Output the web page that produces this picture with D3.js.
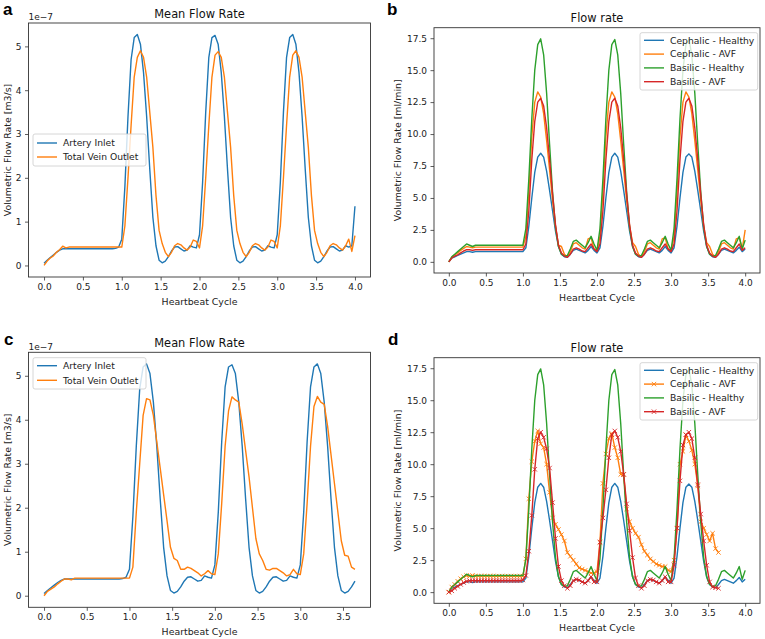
<!DOCTYPE html>
<html>
<head>
<meta charset="utf-8">
<script src="https://cdn.jsdelivr.net/npm/d3@7"></script>
<style>
    html, body { margin: 0; padding: 0; background: #fff; }
    svg text { font-family: "DejaVu Sans", sans-serif; }
</style>
</head>
<body>
<div id="chart"></div>
<script>
// sampling step of every series along the heartbeat cycle axis
const STEP = 0.04;

// ticks
const xTicks = [0, 0.5, 1, 1.5, 2, 2.5, 3, 3.5, 4];
const yTicksMean = [0, 1, 2, 3, 4, 5];
const yTicksFlow = [0, 2.5, 5, 7.5, 10, 12.5, 15, 17.5];

// panel a / c : mean flow rate, units of 1e-7 m3/s
const arteryInlet = [
    0.05, 0.12, 0.18, 0.24, 0.30, 0.35, 0.38, 0.38, 0.38, 0.38, 0.38, 0.38, 0.38, 0.38, 0.38, 0.38, 0.38, 0.38, 0.38, 0.38, 0.38, 0.38, 0.38, 0.39, 0.42,
    0.60, 1.80, 3.40, 4.70, 5.20, 5.27, 5.05, 4.40, 3.40, 2.20, 1.10, 0.45, 0.12, 0.06, 0.10, 0.20, 0.33, 0.42, 0.43, 0.38, 0.33, 0.35, 0.45, 0.42, 0.40,
    0.70, 1.90, 3.50, 4.75, 5.20, 5.25, 5.05, 4.40, 3.40, 2.20, 1.10, 0.45, 0.12, 0.06, 0.10, 0.20, 0.33, 0.42, 0.43, 0.38, 0.33, 0.35, 0.45, 0.42, 0.40,
    0.70, 1.90, 3.50, 4.75, 5.20, 5.27, 5.05, 4.40, 3.40, 2.20, 1.10, 0.45, 0.12, 0.06, 0.10, 0.20, 0.33, 0.42, 0.43, 0.38, 0.33, 0.35, 0.45, 0.42, 0.45,
    1.35
];
const veinOutletA = [
    0.00, 0.10, 0.17, 0.22, 0.30, 0.36, 0.44, 0.40, 0.42, 0.42, 0.42, 0.42, 0.42, 0.42, 0.42, 0.42, 0.42, 0.42, 0.42, 0.42, 0.42, 0.42, 0.42, 0.42, 0.42,
    0.42, 0.90, 2.00, 3.20, 4.30, 4.75, 4.90, 4.75, 4.30, 3.50, 2.70, 1.60, 0.80, 0.50, 0.30, 0.20, 0.30, 0.45, 0.50, 0.47, 0.40, 0.35, 0.42, 0.58, 0.55,
    0.40, 0.90, 2.00, 3.20, 4.30, 4.80, 4.88, 4.75, 4.30, 3.50, 2.70, 1.60, 0.80, 0.50, 0.30, 0.20, 0.30, 0.45, 0.50, 0.47, 0.40, 0.35, 0.42, 0.58, 0.55,
    0.40, 0.90, 2.00, 3.20, 4.30, 4.80, 4.90, 4.75, 4.30, 3.50, 2.70, 1.60, 0.80, 0.50, 0.30, 0.20, 0.30, 0.45, 0.50, 0.47, 0.40, 0.35, 0.45, 0.60, 0.32,
    0.68
];
const arteryInletC = arteryInlet.slice(0, 92);
const veinOutletC = [
    0.00, 0.10, 0.15, 0.20, 0.27, 0.33, 0.38, 0.38, 0.36, 0.40, 0.40, 0.40, 0.40, 0.40, 0.40, 0.40, 0.40, 0.40, 0.40, 0.40, 0.40, 0.40, 0.40, 0.40, 0.40,
    0.40, 0.65, 1.90, 3.00, 4.10, 4.48, 4.45, 4.10, 3.50, 2.90, 2.30, 1.70, 1.10, 0.85, 0.80, 0.60, 0.60, 0.65, 0.62, 0.57, 0.52, 0.45, 0.50, 0.57, 0.50,
    0.48, 0.95, 2.10, 3.40, 4.20, 4.52, 4.45, 4.40, 3.90, 3.30, 2.70, 2.00, 1.30, 0.95, 0.80, 0.60, 0.58, 0.62, 0.62, 0.57, 0.52, 0.45, 0.48, 0.60, 0.50,
    0.48, 0.95, 2.10, 3.40, 4.30, 4.53, 4.40, 4.35, 3.85, 3.20, 2.55, 1.90, 1.25, 0.92, 0.90, 0.65, 0.60
];

// panel b / d : flow rate, ml/min
const cephalicHealthy = [
    0.00, 0.30, 0.40, 0.50, 0.60, 0.70, 0.80, 0.80, 0.75, 0.80, 0.80, 0.80, 0.80, 0.80, 0.80, 0.80, 0.80, 0.80, 0.80, 0.80, 0.80, 0.80, 0.80, 0.80, 0.80,
    0.80, 1.10, 2.80, 5.00, 7.00, 8.20, 8.50, 8.20, 7.10, 5.60, 4.00, 2.40, 1.20, 0.60, 0.40, 0.35, 0.60, 0.90, 1.00, 0.90, 0.80, 0.70, 0.90, 1.20, 0.90,
    0.70, 1.10, 2.80, 5.00, 7.00, 8.20, 8.50, 8.20, 7.10, 5.60, 4.00, 2.40, 1.20, 0.60, 0.40, 0.35, 0.60, 0.90, 1.00, 0.90, 0.80, 0.70, 0.90, 1.20, 0.90,
    0.70, 1.10, 2.80, 5.00, 7.00, 8.20, 8.45, 8.20, 7.10, 5.60, 4.00, 2.40, 1.20, 0.60, 0.40, 0.35, 0.60, 0.90, 1.00, 0.90, 0.80, 0.70, 0.90, 1.15, 0.80,
    1.00
];
const basilicHealthy = [
    0.00, 0.40, 0.60, 0.80, 1.00, 1.20, 1.40, 1.30, 1.20, 1.30, 1.30, 1.30, 1.30, 1.30, 1.30, 1.30, 1.30, 1.30, 1.30, 1.30, 1.30, 1.30, 1.30, 1.30, 1.30,
    1.30, 2.60, 6.50, 11.20, 15.00, 17.00, 17.45, 16.20, 13.20, 9.20, 5.50, 2.70, 1.20, 0.60, 0.45, 0.50, 1.00, 1.60, 1.70, 1.50, 1.30, 1.10, 1.50, 2.00, 1.40,
    0.90, 2.60, 6.50, 11.20, 15.00, 17.00, 17.40, 16.20, 13.20, 9.20, 5.50, 2.70, 1.20, 0.60, 0.45, 0.50, 1.00, 1.60, 1.70, 1.50, 1.30, 1.10, 1.50, 2.00, 1.40,
    0.90, 2.60, 6.50, 11.20, 15.00, 17.00, 17.40, 16.20, 13.20, 9.20, 5.50, 2.70, 1.20, 0.60, 0.45, 0.50, 1.00, 1.60, 1.70, 1.50, 1.30, 1.10, 1.50, 2.00, 1.00,
    1.70
];
const cephalicAVF = [
    0.00, 0.35, 0.55, 0.70, 0.90, 1.05, 1.20, 1.15, 1.10, 1.15, 1.15, 1.15, 1.15, 1.15, 1.15, 1.15, 1.15, 1.15, 1.15, 1.15, 1.15, 1.15, 1.15, 1.15, 1.15,
    1.15, 2.00, 5.50, 9.80, 12.50, 13.30, 12.90, 11.60, 9.50, 7.20, 4.80, 2.80, 1.30, 1.20, 0.60, 0.40, 0.80, 1.40, 1.50, 1.30, 1.10, 1.00, 1.80, 1.90, 1.00,
    0.90, 2.00, 5.50, 9.80, 12.50, 13.30, 12.90, 11.60, 9.50, 7.20, 4.80, 2.80, 1.50, 1.20, 0.60, 0.40, 0.80, 1.40, 1.50, 1.30, 1.10, 1.00, 1.80, 1.90, 1.00,
    0.90, 2.00, 5.50, 9.80, 12.50, 13.30, 12.90, 11.60, 9.50, 7.20, 4.80, 2.80, 1.50, 1.20, 0.60, 0.40, 0.80, 1.40, 1.50, 1.30, 1.10, 1.00, 1.80, 1.90, 1.00,
    2.50
];
const basilicAVF = [
    0.00, 0.30, 0.45, 0.55, 0.70, 0.85, 0.95, 0.95, 0.90, 0.95, 0.95, 0.95, 0.95, 0.95, 0.95, 0.95, 0.95, 0.95, 0.95, 0.95, 0.95, 0.95, 0.95, 0.95, 0.95,
    0.95, 1.40, 4.00, 8.00, 11.00, 12.50, 12.80, 12.20, 10.50, 8.00, 5.30, 2.90, 1.30, 0.70, 0.45, 0.35, 0.60, 1.00, 1.10, 1.00, 0.85, 0.80, 1.10, 1.40, 1.00,
    0.80, 1.40, 4.00, 8.00, 11.00, 12.50, 12.80, 12.20, 10.50, 8.00, 5.30, 2.90, 1.30, 0.70, 0.45, 0.35, 0.60, 1.00, 1.10, 1.00, 0.85, 0.80, 1.10, 1.40, 1.00,
    0.80, 1.40, 4.00, 8.00, 11.00, 12.50, 12.80, 12.20, 10.50, 8.00, 5.30, 2.90, 1.30, 0.70, 0.45, 0.35, 0.60, 1.00, 1.10, 1.00, 0.85, 0.80, 1.10, 1.40, 0.90,
    1.10
];
const cephalicAVFd = [
    0.00, 0.40, 0.60, 0.85, 1.05, 1.20, 1.30, 1.25, 1.30, 1.25, 1.25, 1.25, 1.25, 1.25, 1.25, 1.25, 1.25, 1.25, 1.25, 1.25, 1.25, 1.25, 1.25, 1.25, 1.25,
    1.25, 2.60, 7.30, 10.20, 11.80, 12.60, 11.60, 11.30, 10.00, 7.80, 5.80, 5.30, 4.90, 4.50, 4.00, 3.10, 2.80, 2.50, 2.20, 1.90, 1.80, 1.70, 1.60, 1.50, 1.50,
    1.60, 3.90, 8.50, 10.80, 12.00, 12.40, 11.30, 10.50, 9.20, 9.20, 6.50, 5.50, 5.00, 4.60, 4.30, 3.70, 3.20, 2.90, 2.60, 2.40, 2.20, 2.10, 2.00, 2.00, 1.70,
    1.60, 2.50, 5.00, 10.00, 11.00, 12.30, 11.80, 11.10, 10.00, 8.30, 5.50, 5.00, 4.50, 4.00, 4.60, 3.40, 3.10
];
const basilicAVFd = [
    0.00, 0.10, 0.30, 0.45, 0.60, 0.75, 0.85, 0.90, 0.90, 0.90, 0.90, 0.90, 0.90, 0.90, 0.90, 0.90, 0.90, 0.90, 0.90, 0.90, 0.90, 0.90, 0.90, 0.90, 0.90,
    0.95, 1.30, 3.20, 6.00, 9.60, 12.00, 12.50, 12.10, 11.20, 9.70, 7.00, 4.20, 2.00, 0.90, 0.50, 0.30, 0.50, 0.90, 1.00, 0.95, 0.80, 0.70, 0.90, 1.20, 0.80,
    0.80, 3.90, 5.80, 8.00, 10.50, 12.30, 12.60, 12.10, 11.00, 9.20, 6.90, 4.80, 2.70, 1.10, 0.50, 0.30, 0.50, 0.90, 1.00, 0.95, 0.80, 0.70, 0.90, 1.20, 0.80,
    0.80, 2.10, 5.00, 8.70, 11.50, 12.30, 12.50, 12.00, 10.50, 8.40, 6.10, 4.00, 2.10, 0.80, 0.40, 0.35, 0.30
];


const COLORS = {
    blue: "#1f77b4",
    orange: "#ff7f0e",
    green: "#2ca02c",
    red: "#d62728",
    spine: "#333",
    text: "#222",
    legendEdge: "#cccccc"
};

const fmt1 = d3.format(".1f");
const fmtInt = d3.format("d");

const panels = [
    {
        letter: "a", letterPos: [3, 15],
        box: { l: 28.5, r: 370.5, t: 23, b: 277 },
        title: "Mean Flow Rate", ylabel: "Volumetric Flow Rate [m3/s]", ylabelX: 10.5, offsetText: "1e\u22127",
        yTicks: yTicksMean, yFmt: fmtInt,
        series: [
            { name: "Artery Inlet", values: arteryInlet, color: COLORS.blue },
            { name: "Total Vein Outlet", values: veinOutletA, color: COLORS.orange }
        ],
        legend: { x: 33, y: 134, w: 113, h: 32, first: 9, step: 14 }
    },
    {
        letter: "b", letterPos: [387, 15],
        box: { l: 434, r: 760, t: 27.7, b: 273 },
        title: "Flow rate", ylabel: "Volumetric Flow Rate [ml/min]", ylabelX: 400.5,
        yTicks: yTicksFlow, yFmt: fmt1,
        series: [
            { name: "Cephalic - Healthy", values: cephalicHealthy, color: COLORS.blue },
            { name: "Cephalic - AVF", values: cephalicAVF, color: COLORS.orange },
            { name: "Basilic - Healthy", values: basilicHealthy, color: COLORS.green },
            { name: "Basilic - AVF", values: basilicAVF, color: COLORS.red }
        ],
        legend: { x: 640, y: 32.7, w: 117.7, h: 57.3, first: 7.6, step: 13.8 }
    },
    {
        letter: "c", letterPos: [4, 345],
        box: { l: 28.5, r: 370.5, t: 352.3, b: 607.3 },
        title: "Mean Flow Rate", ylabel: "Volumetric Flow Rate [m3/s]", ylabelX: 10.5, offsetText: "1e\u22127",
        yTicks: yTicksMean, yFmt: fmtInt,
        series: [
            { name: "Artery Inlet", values: arteryInletC, color: COLORS.blue },
            { name: "Total Vein Outlet", values: veinOutletC, color: COLORS.orange }
        ],
        legend: { x: 33, y: 357.7, w: 113, h: 31.3, first: 8, step: 14.6 }
    },
    {
        letter: "d", letterPos: [388, 345],
        box: { l: 434, r: 760, t: 357.7, b: 603.3 },
        title: "Flow rate", ylabel: "Volumetric Flow Rate [ml/min]", ylabelX: 400.5,
        yTicks: yTicksFlow, yFmt: fmt1,
        series: [
            { name: "Cephalic - Healthy", values: cephalicHealthy, color: COLORS.blue },
            { name: "Cephalic - AVF", values: cephalicAVFd, color: COLORS.orange, marker: true },
            { name: "Basilic - Healthy", values: basilicHealthy, color: COLORS.green },
            { name: "Basilic - AVF", values: basilicAVFd, color: COLORS.red, marker: true }
        ],
        legend: { x: 640, y: 362.7, w: 117.7, h: 57.3, first: 7.6, step: 13.8 }
    }
];


// SVG base
const svg = d3.select("#chart")
    .append("svg")
    .attr("width", 765)
    .attr("height", 639);

const toPoints = values => values.map((v, i) => [i * STEP, v]);

// matplotlib style autoscale: data extent plus 5% on each side
const padded = ext => {
    const m = (ext[1] - ext[0]) * 0.05;
    return [ext[0] - m, ext[1] + m];
};

// small "x" marker path
const xMark = (cx, cy, s) =>
    `M${cx - s},${cy - s}L${cx + s},${cy + s}M${cx - s},${cy + s}L${cx + s},${cy - s}`;

panels.forEach((p, k) => {
    const g = svg.append("g");
    const { l, r, t, b } = p.box;

    p.series.forEach(s => s.points = toPoints(s.values));
    const all = p.series.flatMap(s => s.points);

    const x = d3.scaleLinear().domain(padded(d3.extent(all, d => d[0]))).range([l, r]);
    const y = d3.scaleLinear().domain(padded(d3.extent(all, d => d[1]))).range([b, t]);

    // only ticks that fall inside the view
    const inside = (scale, ticks) => ticks.filter(v => v >= scale.domain()[0] && v <= scale.domain()[1]);

    // clip lines to the axes box
    const clipId = `clip-${k}`;
    svg.append("clipPath").attr("id", clipId)
        .append("rect").attr("x", l).attr("y", t).attr("width", r - l).attr("height", b - t);

    // x axis
    const xAxis = g.append("g")
        .attr("transform", `translate(0,${b})`)
        .call(d3.axisBottom(x).tickValues(inside(x, xTicks)).tickFormat(fmt1).tickSize(3.5).tickPadding(3));
    // y axis
    const yAxis = g.append("g")
        .attr("transform", `translate(${l},0)`)
        .call(d3.axisLeft(y).tickValues(inside(y, p.yTicks)).tickFormat(p.yFmt).tickSize(3.5).tickPadding(3.5));

    [xAxis, yAxis].forEach(a => {
        a.select(".domain").remove();
        a.selectAll(".tick line").attr("stroke", COLORS.spine).attr("stroke-width", 0.8);
        a.selectAll(".tick text")
            .attr("fill", COLORS.text)
            .style("font-size", "9px")
            .style("font-family", "DejaVu Sans, sans-serif");
    });

    // lines
    const line = d3.line().x(d => x(d[0])).y(d => y(d[1]));
    const plot = g.append("g").attr("clip-path", `url(#${clipId})`);
    p.series.forEach(s => {
        plot.append("path")
            .datum(s.points)
            .attr("d", line)
            .attr("fill", "none")
            .attr("stroke", s.color)
            .attr("stroke-width", 1.4)
            .attr("stroke-linejoin", "round");
        if (s.marker) {
            plot.append("path")
                .attr("d", s.points.map(d => xMark(x(d[0]), y(d[1]), 2.2)).join(""))
                .attr("fill", "none")
                .attr("stroke", s.color)
                .attr("stroke-width", 0.9);
        }
    });

    // spines
    g.append("rect")
        .attr("x", l).attr("y", t)
        .attr("width", r - l).attr("height", b - t)
        .attr("fill", "none")
        .attr("stroke", COLORS.spine)
        .attr("stroke-width", 0.9);

    // texts
    g.append("text")
        .attr("x", (l + r) / 2).attr("y", t - 5.5)
        .attr("text-anchor", "middle")
        .style("font-size", "11.4px")
        .attr("fill", "#111")
        .text(p.title);

    g.append("text")
        .attr("x", (l + r) / 2).attr("y", b + 27.5)
        .attr("text-anchor", "middle")
        .style("font-size", "9.4px")
        .attr("fill", COLORS.text)
        .text("Heartbeat Cycle");

    g.append("text")
        .attr("transform", `translate(${p.ylabelX},${(t + b) / 2}) rotate(-90)`)
        .attr("text-anchor", "middle")
        .style("font-size", "9.4px")
        .attr("fill", COLORS.text)
        .text(p.ylabel);

    if (p.offsetText) {
        g.append("text")
            .attr("x", l).attr("y", t - 2.8)
            .style("font-size", "9px")
            .attr("fill", COLORS.text)
            .text(p.offsetText);
    }

    g.append("text")
        .attr("x", p.letterPos[0]).attr("y", p.letterPos[1])
        .style("font-family", "Liberation Sans, Arial, sans-serif")
        .style("font-weight", "bold")
        .style("font-size", "17px")
        .attr("fill", "#000")
        .text(p.letter);

    // legend
    const lg = p.legend;
    const leg = g.append("g");
    leg.append("rect")
        .attr("x", lg.x).attr("y", lg.y)
        .attr("width", lg.w).attr("height", lg.h)
        .attr("rx", 2)
        .attr("fill", "#fff").attr("fill-opacity", 0.8)
        .attr("stroke", COLORS.legendEdge).attr("stroke-width", 0.8);

    p.series.forEach((s, i) => {
        const cy = lg.y + lg.first + i * lg.step;
        leg.append("line")
            .attr("x1", lg.x + 4).attr("x2", lg.x + 24)
            .attr("y1", cy).attr("y2", cy)
            .attr("stroke", s.color).attr("stroke-width", 1.4);
        if (s.marker) {
            leg.append("path")
                .attr("d", xMark(lg.x + 14, cy, 2.2))
                .attr("stroke", s.color).attr("stroke-width", 0.9);
        }
        leg.append("text")
            .attr("x", lg.x + 30).attr("y", cy)
            .attr("dy", "0.35em")
            .style("font-size", "9.2px")
            .attr("fill", COLORS.text)
            .text(s.name);
    });
});
</script>
</body>
</html>
